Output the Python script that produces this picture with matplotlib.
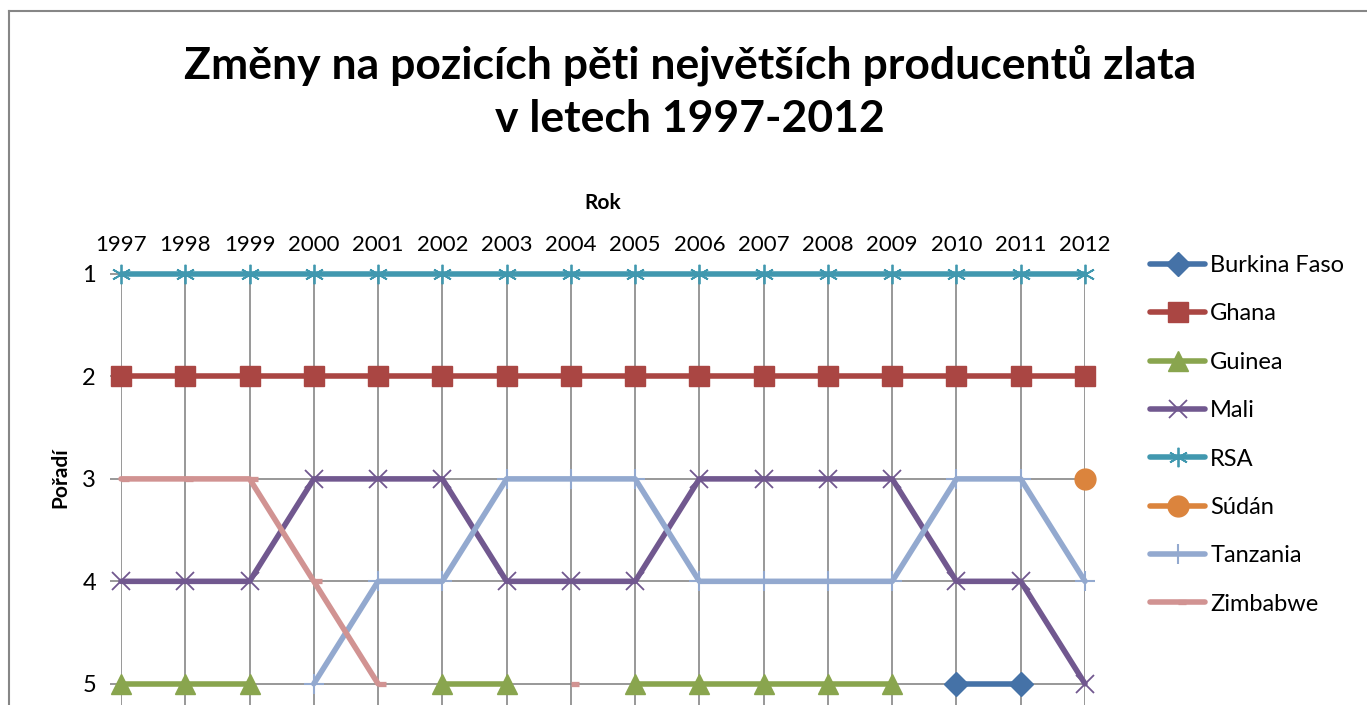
import numpy as np
import matplotlib
matplotlib.use("Agg")
import matplotlib.pyplot as plt
from matplotlib.path import Path
from matplotlib.lines import Line2D

plt.rcParams['font.family'] = ['Lato', 'DejaVu Sans']

nan = np.nan
years = list(range(1997, 2013))
series_names = ["Burkina Faso", "Ghana", "Guinea", "Mali", "RSA", "Súdán", "Tanzania", "Zimbabwe"]
burkina_faso = [nan, nan, nan, nan, nan, nan, nan, nan, nan, nan, nan, nan, nan, 5, 5, nan]
ghana = [2, 2, 2, 2, 2, 2, 2, 2, 2, 2, 2, 2, 2, 2, 2, 2]
guinea = [5, 5, 5, nan, nan, 5, 5, nan, 5, 5, 5, 5, 5, nan, nan, nan]
mali = [4, 4, 4, 3, 3, 3, 4, 4, 4, 3, 3, 3, 3, 4, 4, 5]
rsa = [1, 1, 1, 1, 1, 1, 1, 1, 1, 1, 1, 1, 1, 1, 1, 1]
sudan = [nan, nan, nan, nan, nan, nan, nan, nan, nan, nan, nan, nan, nan, nan, nan, 3]
tanzania = [nan, nan, nan, 5, 4, 4, 3, 3, 3, 4, 4, 4, 4, 3, 3, 4]
zimbabwe = [3, 3, 3, 4, 5, nan, nan, 5, nan, nan, nan, nan, nan, nan, nan, nan]
rank_ticks = [1, 2, 3, 4, 5]

title = "Změny na pozicích pěti největších producentů zlata\nv letech 1997-2012"
xlabel = "Rok"
ylabel = "Pořadí"

colors = ["#4572A7", "#AA4643", "#89A54E", "#71588F", "#4198AF", "#DB843D", "#93A9CF", "#D19392"]
dash_marker = Path([(0, 0), (1, 0)])
markers = ["D", "s", "^", "x", (6, 2, 0), "o", "+", dash_marker]
msizes = [12, 14, 15, 13, 14, 15, 15, 12]
mews = [1, 1, 1, 1.3, 1.3, 1, 1.5, 3.8]

W, H = 1367, 705
fig = plt.figure(figsize=(W / 100, H / 100), dpi=100)

# outer chart border (partially cropped)
fig.add_artist(Line2D([9 / W, 1], [1 - 11 / H, 1 - 11 / H], color="#868686", lw=1.5))
fig.add_artist(Line2D([9 / W, 9 / W], [0, 1 - 11 / H], color="#868686", lw=1.5))

left, right = 121 / W, 1085 / W
top = 1 - 274 / H
bottom = 1 - 735 / H
ax = fig.add_axes([left, bottom, right - left, top - bottom])

data = [burkina_faso, ghana, guinea, mali, rsa, sudan, tanzania, zimbabwe]
for i, (name, vals) in enumerate(zip(series_names, data)):
    ax.plot(years, vals, color=colors[i], lw=4.0, marker=markers[i], ms=msizes[i],
            mec=colors[i], mfc=colors[i], mew=mews[i], label=name,
            clip_on=False, zorder=3 + i, solid_capstyle='round')

ax.set_xlim(1997, 2012)
ax.set_ylim(5.5, 1)
ax.set_yticks(rank_ticks)
ax.set_xticks(years)
ax.grid(True, color="#868686", lw=1.2)
ax.set_axisbelow(True)
for s in ax.spines.values():
    s.set_visible(False)
ax.xaxis.tick_top()
ax.tick_params(axis='x', length=0, labelsize=16, pad=14)
ax.tick_params(axis='y', length=8, color="#868686", width=1.2, labelsize=17, pad=10)

fig.text(603 / W, 1 - 203 / H, xlabel, ha='center', va='center', fontsize=15, fontweight='bold')
fig.text(60 / W, 1 - 478 / H, ylabel, ha='center', va='center', fontsize=15, fontweight='bold', rotation=90)
fig.text(690 / W, 1 - 92 / H, title, ha='center', va='center', fontsize=32, fontweight='bold',
         linespacing=1.4)

leg = fig.legend(loc='upper left', bbox_to_anchor=(1150 / W, 1 - 255 / H), frameon=False,
                 fontsize=17, handlelength=2.33, handletextpad=0.22, labelspacing=1.16,
                 borderaxespad=0, borderpad=0)

fig.savefig("out.png", dpi=100)
